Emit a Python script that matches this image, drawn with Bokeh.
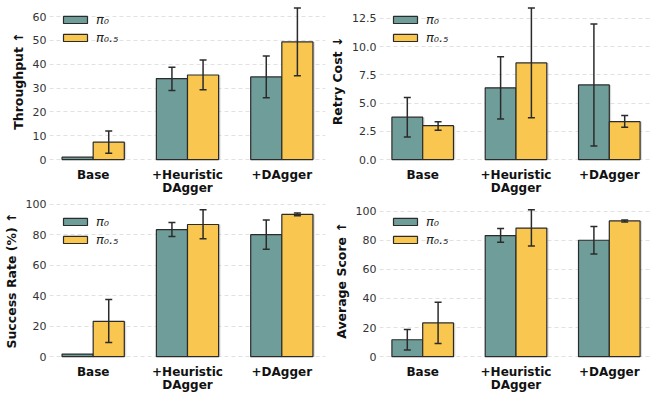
from bokeh.plotting import figure
from bokeh.layouts import gridplot
from bokeh.models import (ColumnDataSource, FixedTicker, Range1d, Legend, LegendItem,
                          NumeralTickFormatter)
from bokeh.transform import dodge
from bokeh.embed import file_html
from bokeh.resources import INLINE

categories = ["Base", "+Heuristic\nDAgger", "+DAgger"]
series = ["π₀", "π₀.₅"]

throughput_pi0 = [1.0, 34.0, 34.7]
throughput_pi0_lo = [1.0, 29.0, 26.0]
throughput_pi0_hi = [1.0, 38.8, 43.5]
throughput_pi05 = [7.3, 35.5, 49.4]
throughput_pi05_lo = [2.7, 29.3, 35.2]
throughput_pi05_hi = [12.0, 41.8, 63.6]

retry_pi0 = [3.75, 6.35, 6.6]
retry_pi0_lo = [2.0, 3.6, 1.2]
retry_pi0_hi = [5.5, 9.1, 12.0]
retry_pi05 = [3.0, 8.55, 3.35]
retry_pi05_lo = [2.6, 3.7, 2.85]
retry_pi05_hi = [3.35, 13.4, 3.9]

success_pi0 = [1.7, 83.3, 80.0]
success_pi0_lo = [1.7, 78.8, 70.5]
success_pi0_hi = [1.7, 88.0, 89.6]
success_pi05 = [23.1, 86.7, 93.3]
success_pi05_lo = [9.2, 77.3, 92.5]
success_pi05_hi = [37.5, 96.3, 94.2]

score_pi0 = [11.6, 83.2, 80.0]
score_pi0_lo = [4.5, 78.7, 70.5]
score_pi0_hi = [18.7, 88.1, 89.5]
score_pi05 = [23.2, 88.4, 93.3]
score_pi05_lo = [9.0, 76.1, 92.5]
score_pi05_hi = [37.4, 100.9, 94.0]

throughput_ticks = [0, 10, 20, 30, 40, 50, 60]
retry_ticks = [0, 2.5, 5, 7.5, 10, 12.5]
percent_ticks = [0, 20, 40, 60, 80, 100]

TEAL = "#6f9e9a"
YELLOW = "#f9c74f"
EDGE = "#2b2b2b"
FONT = "DejaVu Sans"
BAR_W = 0.33


def panel(ylabel, vals0, lo0, hi0, vals1, lo1, hi1, ticks, fmt,
          width, height, bl, br, bt, bb):
    xs = list(range(len(categories)))
    y_end = max(hi0 + hi1) * 1.05
    p = figure(width=width, height=height, output_backend="svg", toolbar_location=None,
               x_range=Range1d(-0.463, 2.463), y_range=Range1d(-0.012 * y_end, y_end),
               min_border_left=bl, min_border_right=br, min_border_top=bt,
               min_border_bottom=bb)
    p.outline_line_color = None
    p.background_fill_color = "white"
    p.xgrid.grid_line_color = None
    p.ygrid.grid_line_color = "#d9d9d9"
    p.ygrid.grid_line_dash = "4 3"
    p.ygrid.grid_line_width = 0.8
    p.ygrid.ticker = FixedTicker(ticks=ticks)

    renderers = []
    for vals, lo, hi, color, off in ((vals0, lo0, hi0, TEAL, -BAR_W / 2),
                                      (vals1, lo1, hi1, YELLOW, BAR_W / 2)):
        src = ColumnDataSource(dict(x=xs, v=vals))
        p.vbar(x=dodge("x", off + 0.02), width=BAR_W, top="v", bottom=0, source=src,
               fill_color="#9a9a9a", fill_alpha=0.35, line_color=None)
        r = p.vbar(x=dodge("x", off), width=BAR_W, top="v", bottom=0, source=src,
                   fill_color=color, line_color=EDGE, line_width=1.2)
        renderers.append(r)
        keep = [i for i in xs if hi[i] > lo[i]]
        esrc = ColumnDataSource(dict(x=[xs[i] for i in keep], lo=[lo[i] for i in keep],
                                     hi=[hi[i] for i in keep]))
        p.segment(x0=dodge("x", off), x1=dodge("x", off), y0="lo", y1="hi", source=esrc,
                  line_color=EDGE, line_width=1.5)
        p.scatter(x=dodge("x", off), y="lo", marker="dash", size=7, source=esrc,
                  line_color=EDGE, line_width=1.5)
        p.scatter(x=dodge("x", off), y="hi", marker="dash", size=7, source=esrc,
                  line_color=EDGE, line_width=1.5)

    legend = Legend(items=[LegendItem(label=series[0], renderers=[renderers[0]]),
                           LegendItem(label=series[1], renderers=[renderers[1]])],
                    location="top_left")
    legend.glyph_width = 30
    legend.glyph_height = 9
    legend.label_height = 16
    legend.label_standoff = 6
    legend.spacing = 2
    legend.padding = 0
    legend.margin = 11
    legend.border_line_color = None
    legend.background_fill_alpha = 0
    legend.label_text_font = FONT
    legend.label_text_font_style = "italic"
    legend.label_text_font_size = "13px"
    legend.label_text_color = "#222222"
    p.add_layout(legend)

    p.yaxis.ticker = FixedTicker(ticks=ticks)
    if fmt:
        p.yaxis.formatter = NumeralTickFormatter(format=fmt)
    p.yaxis.axis_label = ylabel
    p.yaxis.axis_label_text_font = FONT
    p.yaxis.axis_label_text_font_style = "bold"
    p.yaxis.axis_label_text_font_size = "12.5px"
    p.yaxis.axis_label_text_color = "#111111"
    p.yaxis.axis_label_standoff = 4
    p.yaxis.major_label_standoff = 3
    p.yaxis.major_label_text_font = FONT
    p.yaxis.major_label_text_font_size = "11px"
    p.yaxis.major_label_text_color = "#333333"

    p.xaxis.ticker = FixedTicker(ticks=xs)
    p.xaxis.major_label_overrides = {i: c for i, c in zip(xs, categories)}
    p.xaxis.major_label_standoff = 6
    p.xaxis.major_label_text_font = FONT
    p.xaxis.major_label_text_font_style = "bold"
    p.xaxis.major_label_text_font_size = "12px"
    p.xaxis.major_label_text_line_height = 0.93
    p.xaxis.major_label_text_color = "#111111"

    for ax in (p.xaxis, p.yaxis):
        ax.axis_line_color = None
        ax.major_tick_line_color = None
        ax.minor_tick_line_color = None
        ax.major_tick_out = 0
        ax.major_tick_in = 0
        ax.minor_tick_out = 0
        ax.minor_tick_in = 0
    return p


p1 = panel("Throughput ↑", throughput_pi0, throughput_pi0_lo, throughput_pi0_hi,
           throughput_pi05, throughput_pi05_lo, throughput_pi05_hi, throughput_ticks, None,
           327, 197, 36, 2, 0, 30)
p2 = panel("Retry Cost ↓", retry_pi0, retry_pi0_lo, retry_pi0_hi,
           retry_pi05, retry_pi05_lo, retry_pi05_hi, retry_ticks, "0.0",
           327, 197, 46, 2, 0, 30)
p3 = panel("Success Rate (%) ↑", success_pi0, success_pi0_lo, success_pi0_hi,
           success_pi05, success_pi05_lo, success_pi05_hi, percent_ticks, None,
           327, 197, 42, 2, 5, 30)
p4 = panel("Average Score ↑", score_pi0, score_pi0_lo, score_pi0_hi,
           score_pi05, score_pi05_lo, score_pi05_hi, percent_ticks, None,
           327, 197, 44, 2, 3, 30)

grid = gridplot([[p1, p2], [p3, p4]], toolbar_location=None)
open("out.html", "w").write(file_html(grid, INLINE))
